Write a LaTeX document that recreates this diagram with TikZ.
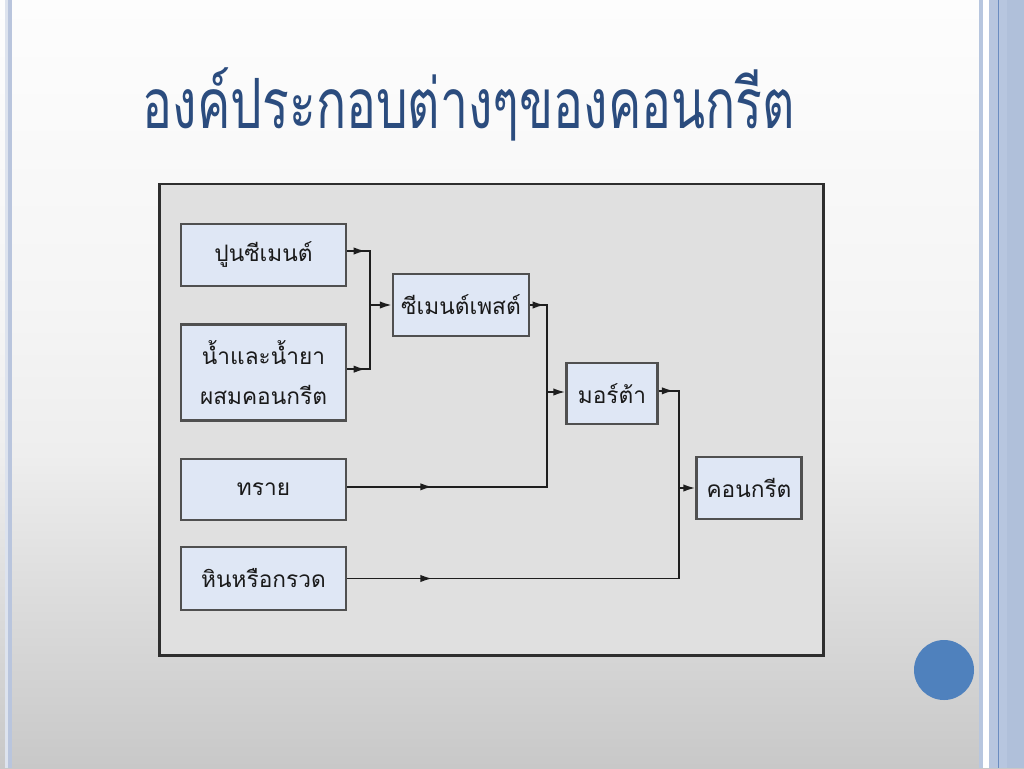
\documentclass[tikz,border=0pt]{standalone}
\usepackage{fontspec}
\newfontfamily\thaifont[Script=Thai]{Loma}
\usetikzlibrary{arrows.meta,decorations.markings}
\definecolor{bgA}{HTML}{C8C8C8}
\definecolor{bgB}{HTML}{DCDCDC}
\definecolor{bgC}{HTML}{EEEEEE}
\definecolor{bgD}{HTML}{F5F5F5}
\definecolor{bgE}{HTML}{FDFDFD}
\definecolor{titleblue}{HTML}{2B4C7E}
\definecolor{stripblue}{HTML}{B7C6DF}
\definecolor{stripdark}{HTML}{6A8CC0}
\definecolor{stripalt}{HTML}{B0C0DA}
\definecolor{leftstrip}{HTML}{B9C5DD}
\definecolor{leftlight}{HTML}{DDE3EE}
\definecolor{dotblue}{HTML}{4F81BD}
\definecolor{panelgray}{HTML}{E0E0E0}
\definecolor{panelborder}{HTML}{2E2E2E}
\definecolor{boxfill}{HTML}{DFE7F5}
\definecolor{boxborder}{HTML}{505050}
\definecolor{linecol}{HTML}{1E1E1E}
\definecolor{textcol}{HTML}{1A1A1A}
\pgfdeclareverticalshading{bgshade}{100bp}{color(0bp)=(bgA); color(25bp)=(bgA); color(36bp)=(bgB); color(45.5bp)=(bgC); color(55.5bp)=(bgD); color(75bp)=(bgE); color(100bp)=(bgE)}
\newcommand{\pxu}{0.75pt}
\tikzset{
  box/.style={draw=boxborder, line width=1.6pt, fill=boxfill, inner sep=0pt,
    text=textcol, align=center,
    font=\thaifont\fontsize{17}{30}\selectfont},
  conn/.style={draw=linecol, line width=1.4pt},
  tipat/.style={postaction={decorate},
    decoration={markings, mark=at position #1 with {\arrow{Latex[length=9pt,width=5.5pt]}}}},
  endtip/.style={-{Latex[length=9pt,width=5.5pt]}}
}
\begin{document}
\begin{tikzpicture}[x=0.75pt,y=-0.75pt]
\useasboundingbox (0,0) rectangle (1024,768);
% background
\shade[shading=bgshade] (0,0) rectangle (1024,768);
% left strips
\fill[leftlight] (5,0) rectangle (8,768);
\fill[leftstrip] (8,0) rectangle (12,768);
% right strips
\fill[stripblue] (979,0) rectangle (983,768);
\fill[white] (983,0) rectangle (989,768);
\fill[stripblue] (989,0) rectangle (1007,768);
\fill[stripalt] (1007,0) rectangle (1024,768);
\fill[stripdark] (997.5,0) rectangle (998.8,768);
% circle
\fill[dotblue] (944,670) circle[radius=30];
% title
\node[anchor=base, text=titleblue, font=\thaifont\fontsize{52}{60}\selectfont, inner sep=0pt] (title) at (469,128) {\scalebox{0.72}[1]{องค์ประกอบต่างๆของคอนกรีต}};
% panel
\draw[fill=panelgray, draw=panelborder, line width=2.2pt] (159.5,184) rectangle (823.5,655.5);
% boxes
\node[box, minimum width=165*\pxu, minimum height=62*\pxu] (cement) at (263.5,255) {ปูนซีเมนต์};
\node[box, minimum width=165*\pxu, minimum height=96*\pxu] (water) at (263.5,372.5) {น้ำและน้ำยา\\ผสมคอนกรีต};
\node[box, minimum width=165*\pxu, minimum height=61*\pxu] (sand) at (263.5,489.5) {ทราย};
\node[box, minimum width=165*\pxu, minimum height=63*\pxu] (gravel) at (263.5,578.5) {หินหรือกรวด};
\node[box, minimum width=136*\pxu, minimum height=62*\pxu] (paste) at (461,305) {ซีเมนต์เพสต์};
\node[box, minimum width=91*\pxu, minimum height=61*\pxu] (mortar) at (612,393.5) {มอร์ต้า};
\node[box, minimum width=105*\pxu, minimum height=62*\pxu] (concrete) at (749,488) {คอนกรีต};
% junctions
\coordinate (j1) at (370,305);
\coordinate (j2) at (547,392);
\coordinate (j3) at (679,488);
% connectors
\draw[conn, tipat=14pt] ([yshift=3pt]cement.east) -| (j1);
\draw[conn, tipat=14pt] ([yshift=2.5pt]water.east) -| (j1);
\draw[conn, endtip] (j1) -- (j1 -| paste.west);
\draw[conn, tipat=11pt] (paste.east) -| (j2);
\draw[conn, tipat=64pt] ([yshift=2pt]sand.east) -| (j2);
\draw[conn, endtip] (j2) -- (j2 -| mortar.west);
\draw[conn, tipat=11.5pt] ([yshift=2pt]mortar.east) -| (j3);
\draw[conn, tipat=64pt] (gravel.east) -| (j3);
\draw[conn, endtip] (j3) -- (j3 -| concrete.west);
\end{tikzpicture}
\end{document}
